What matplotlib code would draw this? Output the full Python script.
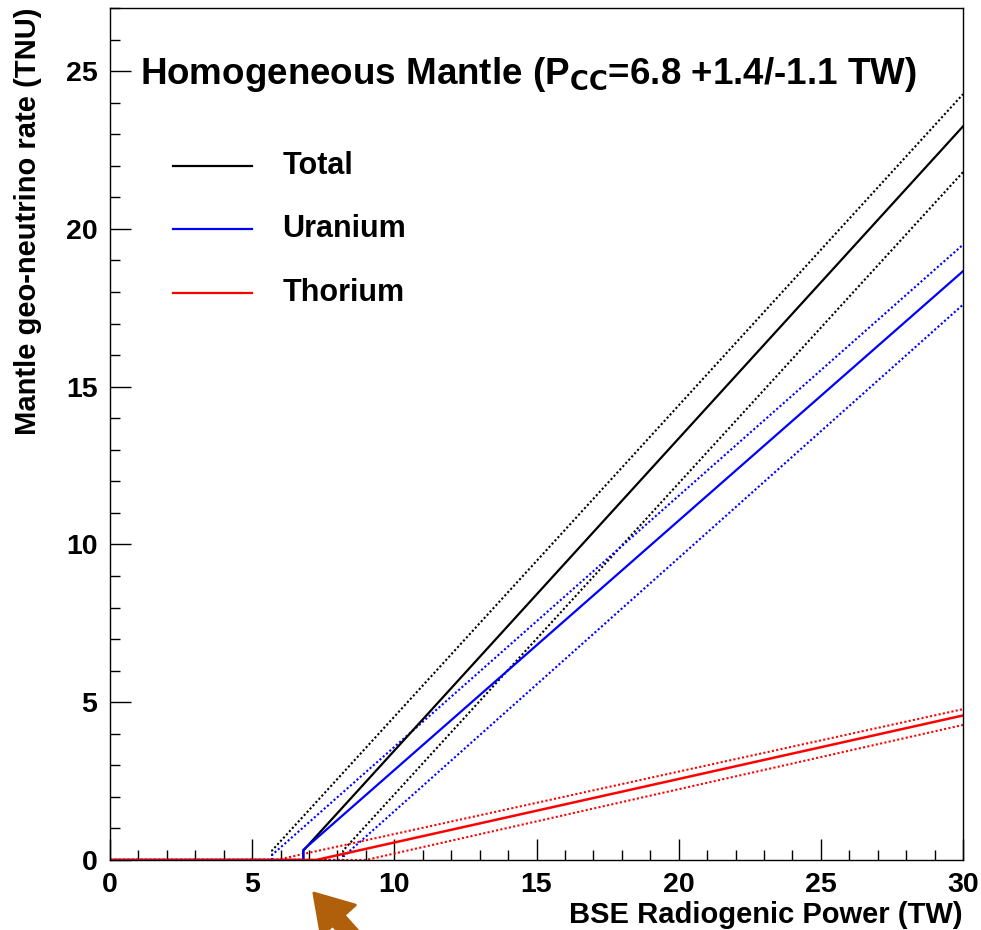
import matplotlib
matplotlib.use('Agg')
import matplotlib.pyplot as plt
from matplotlib.patches import FancyArrowPatch

plt.rcParams['font.family'] = ['Liberation Sans', 'DejaVu Sans']
plt.rcParams['font.weight'] = 'bold'

# Mantle geo-neutrino rate (TNU) vs BSE radiogenic power (TW)
total_x = [0, 6.8, 6.8, 30]
total_y = [0, 0, 0.3, 23.25]
total_hi_x = [0, 5.7, 5.7, 30]
total_hi_y = [0, 0, 0.3, 24.27]
total_lo_x = [0, 8.2, 8.2, 30]
total_lo_y = [0, 0, 0.3, 21.8]

uranium_x = [0, 6.8, 6.8, 30]
uranium_y = [0, 0, 0.32, 18.66]
uranium_hi_x = [0, 5.7, 5.7, 30]
uranium_hi_y = [0, 0, 0.16, 19.5]
uranium_lo_x = [0, 8.2, 8.2, 30]
uranium_lo_y = [0, 0, 0.1, 17.6]

thorium_x = [0, 7.25, 30]
thorium_y = [0, 0, 4.58]
thorium_hi_x = [0, 5.85, 30]
thorium_hi_y = [0, 0, 4.78]
thorium_lo_x = [0, 9.0, 30]
thorium_lo_y = [0, 0, 4.28]

fig = plt.figure(figsize=(9.81, 9.30), dpi=100)
ax = fig.add_axes([0.1121, 0.0753, 0.8696, 0.9161])

dot = (0, (1, 1.1))
# dotted bands first, solid on top
ax.plot(total_hi_x, total_hi_y, color='black', lw=1.5, ls=dot)
ax.plot(total_lo_x, total_lo_y, color='black', lw=1.5, ls=dot)
ax.plot(uranium_hi_x, uranium_hi_y, color='blue', lw=1.5, ls=dot)
ax.plot(uranium_lo_x, uranium_lo_y, color='blue', lw=1.5, ls=dot)
ax.plot(thorium_hi_x, thorium_hi_y, color='red', lw=1.5, ls=dot)
ax.plot(thorium_lo_x, thorium_lo_y, color='red', lw=1.5, ls=dot)

ax.plot(total_x, total_y, color='black', lw=1.6)
ax.plot(uranium_x, uranium_y, color='blue', lw=1.6)
ax.plot(thorium_x, thorium_y, color='red', lw=1.8)

ax.set_xlim(0, 30)
ax.set_ylim(0, 27)
ax.set_xticks([0, 5, 10, 15, 20, 25, 30])
ax.set_yticks([0, 5, 10, 15, 20, 25])
ax.set_xticks(range(0, 31), minor=True)
ax.set_yticks(range(0, 28), minor=True)
ax.tick_params(which='both', direction='in', top=False, right=False,
               labelsize=20.5, width=1)
ax.tick_params(which='major', length=15)
ax.tick_params(which='minor', length=7.5)
ax.tick_params(axis='x', pad=9)
ax.tick_params(axis='y', pad=9)
for lab in ax.get_xticklabels() + ax.get_yticklabels():
    lab.set_fontweight('bold')
for s in ax.spines.values():
    s.set_linewidth(1)

ax.set_xlabel('BSE Radiogenic Power (TW)', fontsize=21, fontweight='bold',
              loc='right', labelpad=2)
ax.set_ylabel('Mantle geo-neutrino rate (TNU)', fontsize=21, fontweight='bold',
              loc='top', labelpad=17)

ax.text(0.035, 0.922, r'Homogeneous Mantle (P$_{\mathbf{CC}}$=6.8 +1.4/-1.1 TW)',
        transform=ax.transAxes, fontsize=26.5, fontweight='bold', va='center')

# legend
legend = [('Total', 'black'), ('Uranium', 'blue'), ('Thorium', 'red')]
for i, (name, col) in enumerate(legend):
    yy = 0.8146 - i * 0.0743
    ax.plot([0.074, 0.167], [yy, yy], color=col, lw=1.6, transform=ax.transAxes)
    ax.text(0.202, yy, name, transform=ax.transAxes, fontsize=22,
            fontweight='bold', va='center')

# arrow pointing to P_CC below the axis
arr = FancyArrowPatch((3.56, -0.10), (3.12, 0.39), transform=fig.dpi_scale_trans,
                      arrowstyle='simple,head_width=1.5,head_length=1.2,tail_width=0.5',
                      mutation_scale=22, color='#b0600a', joinstyle='round',
                      capstyle='round', lw=2, clip_on=False)
fig.add_artist(arr)

fig.savefig('out.png', dpi=100)
